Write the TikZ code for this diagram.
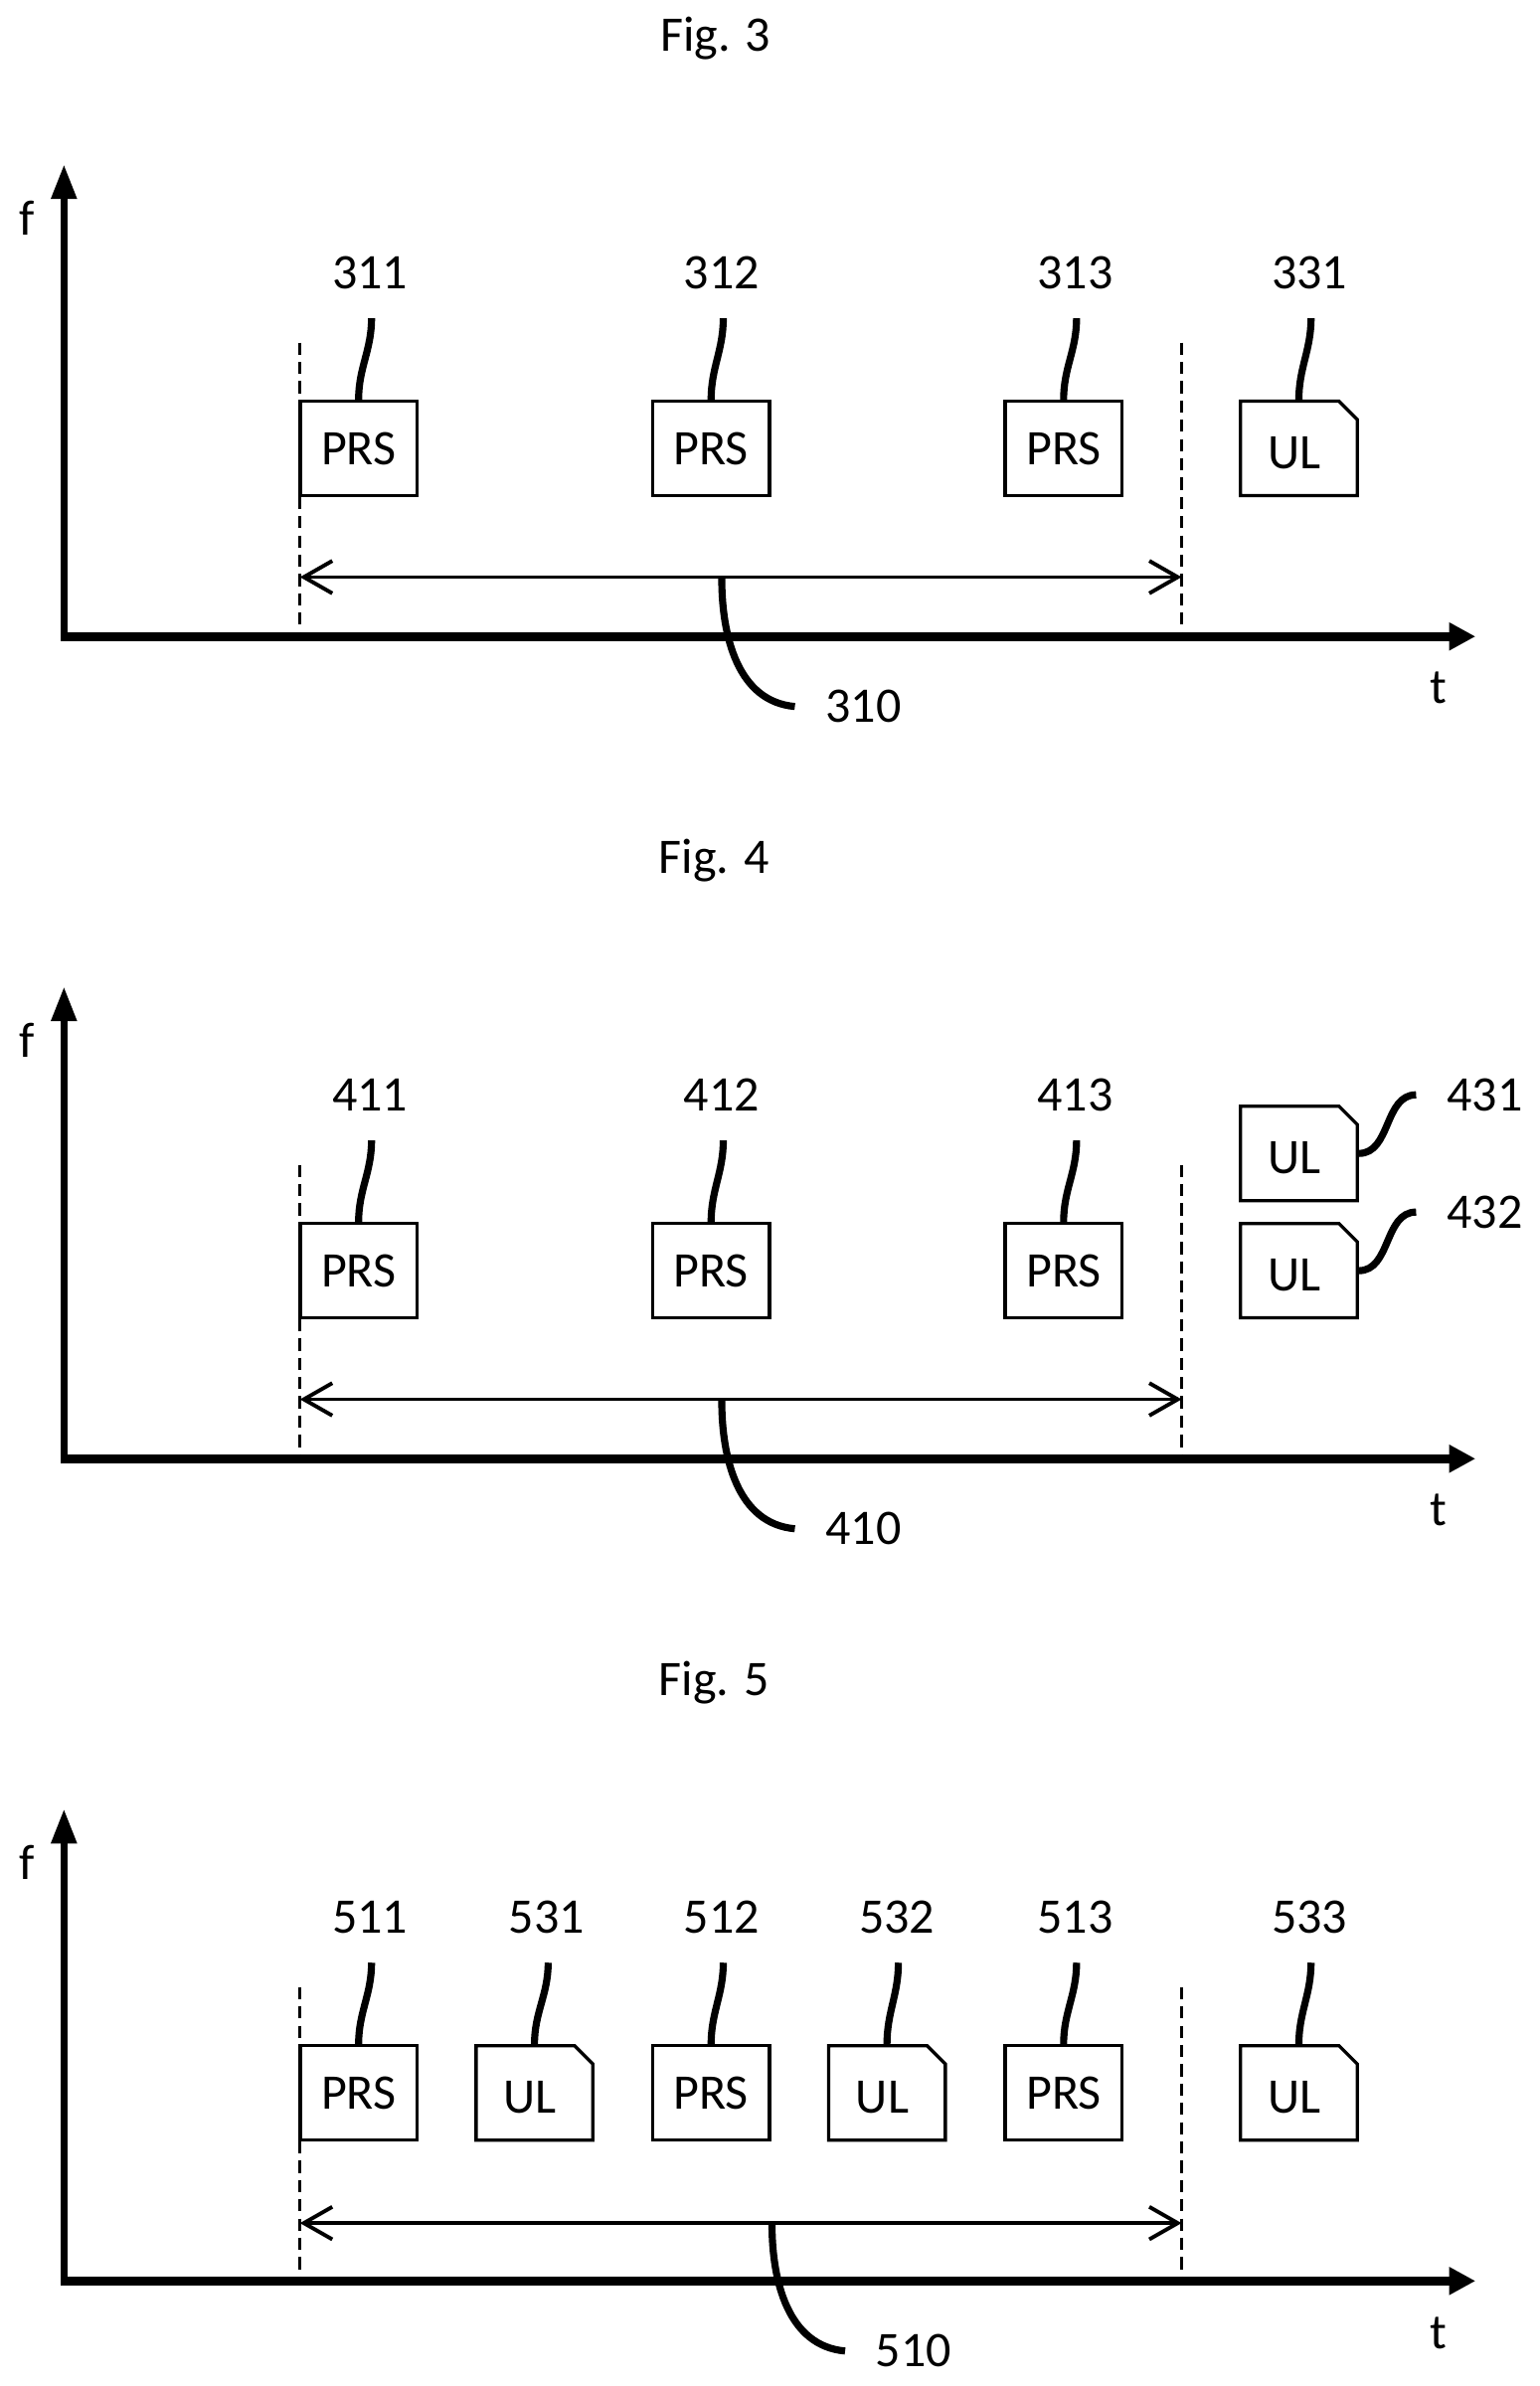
\documentclass[tikz,border=0pt]{standalone}
\usepackage{fontspec}
\setmainfont{Carlito}
\usetikzlibrary{arrows.meta,shapes.misc}

\tikzset{
  txt/.style={inner sep=0pt,font=\fontsize{24.5}{29}\selectfont},
  prsbox/.style={draw,line width=1.6pt,minimum width=57.5pt,minimum height=46.5pt,inner sep=0pt,font=\fontsize{24.5}{29}\selectfont},
  ulbox/.style={prsbox,chamfered rectangle,chamfered rectangle corners=north east,chamfered rectangle xsep=4.5pt,chamfered rectangle ysep=4.5pt,
    text height=20pt,text depth=0pt,execute at end node=\hspace{4.5pt}},
  faxis/.style={line width=3.4pt,line cap=rect,-{Triangle[length=17pt,width=12pt]}},
  taxis/.style={line width=4.4pt,line cap=rect,shorten <=0.7pt,-{Triangle[length=13pt,width=13pt]}},
  span/.style={line width=1.9pt,{Straight Barb[length=14pt,width=16pt]}-{Straight Barb[length=14pt,width=16pt]}},
  limit/.style={line width=1.3pt,dash pattern=on 6pt off 3.5pt},
  lead/.style={line width=3.5pt}
}

\begin{document}
\begin{tikzpicture}[x=0.75pt,y=-0.75pt]
  \useasboundingbox (0,0) rectangle (1011.3,1567);

  % Fig. 3
  \node[txt] (fig3) at (470,25) {Fig. 3};
  \coordinate (o3) at (42,418);
  \coordinate (ftip3) at (42,108);
  \coordinate (ttip3) at (969,418);
  \draw[faxis] (o3) -- (ftip3);
  \draw[taxis] (o3) -- (ttip3);
  \node[txt] (f3) at (18,143) {f};
  \node[txt] (t3) at (945,452) {t};
  \coordinate (la3) at (197,225);
  \coordinate (lb3) at (197,416);
  \coordinate (ra3) at (776,225);
  \coordinate (rb3) at (776,416);
  \draw[limit] (la3) -- (lb3);
  \draw[limit] (ra3) -- (rb3);
  \coordinate (sl3) at (197,379);
  \coordinate (sr3) at (776,379);
  \draw[span] (sl3) -- (sr3);
  \node[prsbox] (p311) at (235.5,294.5) {PRS};
  \node[prsbox] (p312) at (467,294.5) {PRS};
  \node[prsbox] (p313) at (698.5,294.5) {PRS};
  \node[ulbox] (u331) at (853,294.5) {UL};
  \node[txt] (n311) at (243,179) {311};
  \node[txt] (n312) at (474,179) {312};
  \node[txt] (n313) at (706,179) {313};
  \node[txt] (n331) at (860,179) {331};
  \node[txt] (n310) at (567,464) {310};
  \coordinate (c311) at (244,209);
  \coordinate (c312) at (475,209);
  \coordinate (c313) at (707,209);
  \coordinate (c331) at (861,209);
  \draw[lead] (c311) to[out=-90,in=90] (p311.north);
  \draw[lead] (c312) to[out=-90,in=90] (p312.north);
  \draw[lead] (c313) to[out=-90,in=90] (p313.north);
  \draw[lead] (c331) to[out=-90,in=90] (u331.north);
  \coordinate (a310) at (474,380);
  \coordinate (b310) at (522,464);
  \draw[lead] (a310) to[out=-90,in=175] (b310);

  % Fig. 4
  \node[txt] (fig4) at (469,565) {Fig. 4};
  \coordinate (o4) at (42,958);
  \coordinate (ftip4) at (42,648);
  \coordinate (ttip4) at (969,958);
  \draw[faxis] (o4) -- (ftip4);
  \draw[taxis] (o4) -- (ttip4);
  \node[txt] (f4) at (18,683) {f};
  \node[txt] (t4) at (945,992) {t};
  \coordinate (la4) at (197,765);
  \coordinate (lb4) at (197,956);
  \coordinate (ra4) at (776,765);
  \coordinate (rb4) at (776,956);
  \draw[limit] (la4) -- (lb4);
  \draw[limit] (ra4) -- (rb4);
  \coordinate (sl4) at (197,919);
  \coordinate (sr4) at (776,919);
  \draw[span] (sl4) -- (sr4);
  \node[prsbox] (p411) at (235.5,834.5) {PRS};
  \node[prsbox] (p412) at (467,834.5) {PRS};
  \node[prsbox] (p413) at (698.5,834.5) {PRS};
  \node[ulbox] (u431) at (853,757.5) {UL};
  \node[ulbox] (u432) at (853,834.5) {UL};
  \node[txt] (n411) at (243,719) {411};
  \node[txt] (n412) at (474,719) {412};
  \node[txt] (n413) at (706,719) {413};
  \node[txt] (n431) at (975,719) {431};
  \node[txt] (n432) at (975,796) {432};
  \node[txt] (n410) at (567,1004) {410};
  \coordinate (c411) at (244,749);
  \coordinate (c412) at (475,749);
  \coordinate (c413) at (707,749);
  \coordinate (c431) at (930,719);
  \coordinate (c432) at (930,796);
  \draw[lead] (c411) to[out=-90,in=90] (p411.north);
  \draw[lead] (c412) to[out=-90,in=90] (p412.north);
  \draw[lead] (c413) to[out=-90,in=90] (p413.north);
  \draw[lead] (c431) to[out=180,in=0] (u431.east);
  \draw[lead] (c432) to[out=180,in=0] (u432.east);
  \coordinate (a410) at (474,920);
  \coordinate (b410) at (522,1004);
  \draw[lead] (a410) to[out=-90,in=175] (b410);

  % Fig. 5
  \node[txt] (fig5) at (469,1105) {Fig. 5};
  \coordinate (o5) at (42,1498);
  \coordinate (ftip5) at (42,1188);
  \coordinate (ttip5) at (969,1498);
  \draw[faxis] (o5) -- (ftip5);
  \draw[taxis] (o5) -- (ttip5);
  \node[txt] (f5) at (18,1223) {f};
  \node[txt] (t5) at (945,1532) {t};
  \coordinate (la5) at (197,1305);
  \coordinate (lb5) at (197,1496);
  \coordinate (ra5) at (776,1305);
  \coordinate (rb5) at (776,1496);
  \draw[limit] (la5) -- (lb5);
  \draw[limit] (ra5) -- (rb5);
  \coordinate (sl5) at (197,1460);
  \coordinate (sr5) at (776,1460);
  \draw[span] (sl5) -- (sr5);
  \node[prsbox] (p511) at (235.5,1374.5) {PRS};
  \node[ulbox] (u531) at (351,1374.5) {UL};
  \node[prsbox] (p512) at (467,1374.5) {PRS};
  \node[ulbox] (u532) at (582.5,1374.5) {UL};
  \node[prsbox] (p513) at (698.5,1374.5) {PRS};
  \node[ulbox] (u533) at (853,1374.5) {UL};
  \node[txt] (n511) at (243,1259) {511};
  \node[txt] (n531) at (359,1259) {531};
  \node[txt] (n512) at (474,1259) {512};
  \node[txt] (n532) at (589,1259) {532};
  \node[txt] (n513) at (706,1259) {513};
  \node[txt] (n533) at (860,1259) {533};
  \node[txt] (n510) at (600,1544) {510};
  \coordinate (c511) at (244,1289);
  \coordinate (c531) at (360,1289);
  \coordinate (c512) at (475,1289);
  \coordinate (c532) at (590,1289);
  \coordinate (c513) at (707,1289);
  \coordinate (c533) at (861,1289);
  \draw[lead] (c511) to[out=-90,in=90] (p511.north);
  \draw[lead] (c531) to[out=-90,in=90] (u531.north);
  \draw[lead] (c512) to[out=-90,in=90] (p512.north);
  \draw[lead] (c532) to[out=-90,in=90] (u532.north);
  \draw[lead] (c513) to[out=-90,in=90] (p513.north);
  \draw[lead] (c533) to[out=-90,in=90] (u533.north);
  \coordinate (a510) at (507,1461);
  \coordinate (b510) at (555,1544);
  \draw[lead] (a510) to[out=-90,in=175] (b510);
\end{tikzpicture}
\end{document}
